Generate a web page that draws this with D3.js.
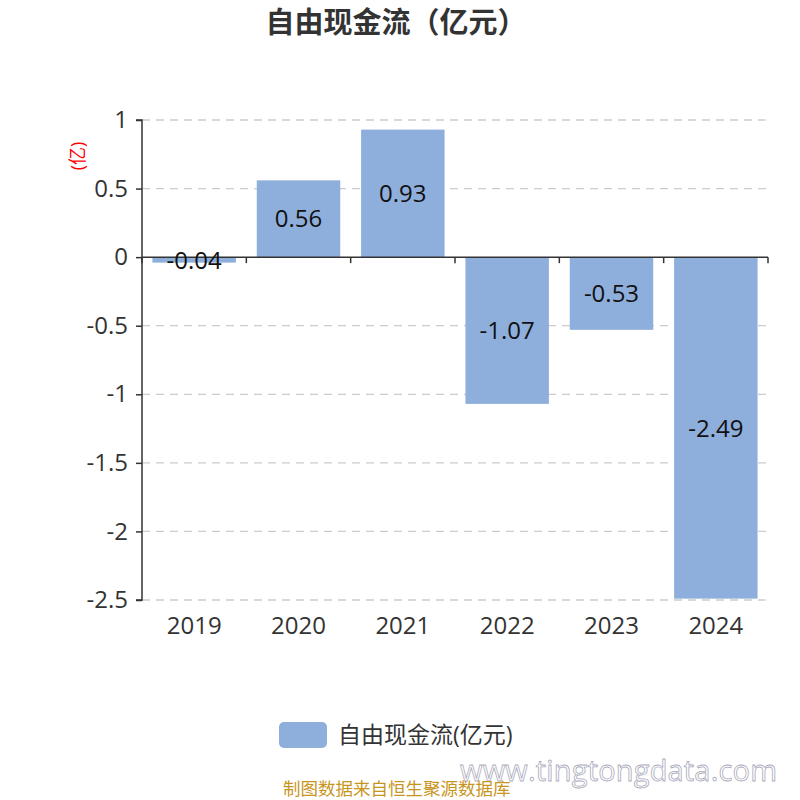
<!DOCTYPE html>
<html><head><meta charset="utf-8">
<script src="https://cdn.jsdelivr.net/npm/d3@7"></script>
<style>body{margin:0;background:#fff}svg{display:block}text{font-family:"Open Sans","Noto Sans CJK SC",sans-serif}</style>
</head><body>
<svg id="c" width="800" height="800"></svg>
<script>
const categories = ["2019","2020","2021","2022","2023","2024"];
const values = [-0.04, 0.56, 0.93, -1.07, -0.53, -2.49];
const yTicks = [1, 0.5, 0, -0.5, -1, -1.5, -2, -2.5];
const title = "自由现金流（亿元）";
const seriesName = "自由现金流(亿元)";
const unitLabel = "(亿)";
const source = "制图数据来自恒生聚源数据库";
const watermark = "www.tingtongdata.com";

const svg = d3.select("#c");
const L = 142, R = 768, T = 120, B = 600;
const x = d3.scaleBand().domain(categories).range([L, R]).paddingInner(0.2).paddingOuter(0.1);
const y = d3.scaleLinear().domain([-2.5, 1]).range([B, T]);
const font = '"Open Sans","Noto Sans CJK SC",sans-serif';

svg.append("text").attr("x", 396).attr("y", 33).attr("text-anchor", "middle")
  .attr("font-size", 29).attr("font-weight", "bold").attr("fill", "#333").text(title);

// grid
svg.append("g").selectAll("line").data(yTicks.filter(d => d !== 0)).join("line")
  .attr("x1", L).attr("x2", R).attr("y1", d => y(d)).attr("y2", d => y(d))
  .attr("stroke", "#ccc").attr("stroke-dasharray", "8,6").attr("stroke-width", 1.3);

// bars
svg.append("g").selectAll("rect").data(values).join("rect")
  .attr("x", (d, i) => x(categories[i])).attr("width", x.bandwidth())
  .attr("y", d => y(Math.max(0, d))).attr("height", d => Math.abs(y(d) - y(0)))
  .attr("fill", "#8eaedb");

// y axis
const ya = svg.append("g").attr("transform", `translate(${L},0)`)
  .call(d3.axisLeft(y).tickValues(yTicks).tickSize(6).tickPadding(8).tickFormat(d => String(d)));
ya.select(".domain").attr("stroke", "#333").attr("stroke-width", 1.5).attr("d", `M-6,${T}H0V${B}H-6`);
ya.selectAll(".tick line").attr("stroke", "#333").attr("stroke-width", 1.5);
ya.selectAll("text").attr("font-size", 24).attr("fill", "#333").attr("font-family", font);

// x axis line at zero
const xa = svg.append("g").attr("transform", `translate(0,${y(0)})`);
xa.append("line").attr("x1", L).attr("x2", R).attr("stroke", "#333").attr("stroke-width", 1.5);
const bounds = d3.range(categories.length + 1).map(i => L + i * (R - L) / categories.length);
xa.selectAll(".tk").data(bounds).join("line").attr("class", "tk")
  .attr("x1", d => d).attr("x2", d => d).attr("y1", 0).attr("y2", 6)
  .attr("stroke", "#333").attr("stroke-width", 1.5);

// category labels at bottom
svg.append("g").selectAll("text").data(categories).join("text")
  .attr("x", d => x(d) + x.bandwidth() / 2).attr("y", B + 34).attr("text-anchor", "middle")
  .attr("font-size", 24).attr("fill", "#333").text(d => d);

// bar labels
svg.append("g").selectAll("text").data(values).join("text")
  .attr("x", (d, i) => x(categories[i]) + x.bandwidth() / 2)
  .attr("y", d => (y(d) + y(0)) / 2).attr("dy", "0.36em").attr("text-anchor", "middle")
  .attr("font-size", 24).attr("fill", "#111").text(d => d.toFixed(2));

// unit label
svg.append("text").attr("transform", `translate(78,156) rotate(-90)`).attr("text-anchor", "middle")
  .attr("dy", "0.35em").attr("font-size", 18).attr("fill", "red").text(unitLabel);

// legend
svg.append("rect").attr("x", 279).attr("y", 722).attr("width", 48).attr("height", 26).attr("rx", 5)
  .attr("fill", "#8eaedb");
svg.append("text").attr("x", 338).attr("y", 735).attr("dy", "0.36em").attr("font-size", 23)
  .attr("fill", "#333").text(seriesName);

// watermark
svg.append("text").attr("x", 460).attr("y", 781).attr("font-size", 29).attr("letter-spacing", 3)
  .attr("fill", "#fff").attr("stroke", "#aab").attr("stroke-width", 0.8).attr("textLength", 320)
  .attr("font-family", "DejaVu Sans").text(watermark);

// source
svg.append("text").attr("x", 283).attr("y", 795).attr("font-size", 17.5).attr("fill", "#c8951e")
  .text(source);
</script>
</body></html>
